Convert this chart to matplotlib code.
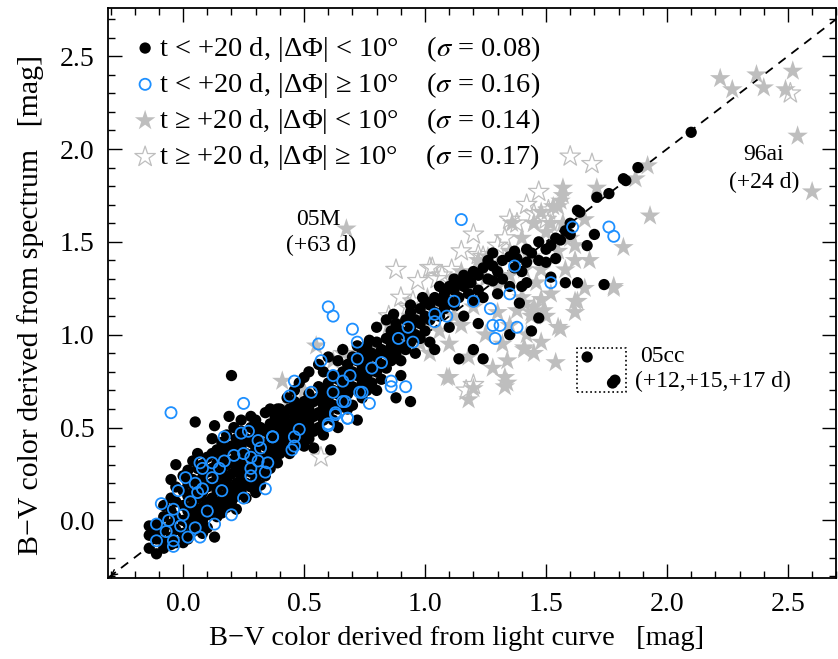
import matplotlib
matplotlib.use("Agg")
import matplotlib.pyplot as plt
import numpy as np

plt.rcParams['font.family'] = 'serif'
plt.rcParams['font.serif'] = ['Liberation Serif', 'DejaVu Serif']
plt.rcParams['mathtext.fontset'] = 'stix'

# (B-V from light curve, B-V from spectrum)
# t < +20 d, |dPhi| < 10 deg  (black dots)
early_good = [
    (-0.14, -0.03), (-0.14, -0.08), (-0.14, -0.15), (-0.11, -0.02), (-0.11, -0.10), (-0.11, -0.18),
    (-0.11, -0.06), (-0.08, 0.02), (-0.08, -0.05), (-0.08, -0.12), (-0.08, 0.08), (-0.08, -0.15),
    (-0.05, 0.05), (-0.05, -0.02), (-0.05, -0.09), (-0.05, 0.12), (-0.05, 0.22), (-0.05, -0.13),
    (-0.03, 0.30), (-0.03, 0.18), (-0.03, 0.10), (-0.03, 0.02), (-0.03, -0.05), (-0.03, -0.12),
    (0.00, 0.24), (0.00, 0.16), (0.00, 0.08), (0.00, 0.00), (0.00, -0.07), (0.00, -0.12),
    (0.02, 0.27), (0.02, 0.20), (0.02, 0.13), (0.02, 0.05), (0.02, -0.02), (0.02, -0.10),
    (0.04, 0.22), (0.04, 0.15), (0.04, 0.08), (0.04, 0.01), (0.04, -0.06), (0.04, 0.32),
    (0.06, 0.36), (0.06, 0.28), (0.06, 0.20), (0.06, 0.12), (0.06, 0.04), (0.06, -0.04),
    (0.08, 0.30), (0.08, 0.23), (0.08, 0.15), (0.08, 0.07), (0.08, 0.00), (0.08, -0.07),
    (0.05, 0.53), (0.10, 0.34), (0.10, 0.26), (0.10, 0.18), (0.10, 0.10), (0.10, 0.03),
    (0.10, -0.04), (0.12, 0.44), (0.12, 0.36), (0.12, 0.28), (0.12, 0.20), (0.12, 0.12),
    (0.12, 0.05), (0.13, -0.09), (0.14, 0.38), (0.14, 0.31), (0.14, 0.24), (0.14, 0.16),
    (0.14, 0.08), (0.14, 0.02), (0.13, 0.51), (0.16, 0.42), (0.16, 0.34), (0.16, 0.26),
    (0.16, 0.19), (0.16, 0.11), (0.16, 0.04), (0.18, 0.46), (0.18, 0.38), (0.18, 0.30),
    (0.18, 0.22), (0.18, 0.14), (0.18, 0.07), (0.19, 0.56), (0.20, 0.40), (0.20, 0.32),
    (0.20, 0.25), (0.20, 0.17), (0.20, 0.10), (0.20, 0.78), (0.21, 0.50), (0.22, 0.44),
    (0.22, 0.36), (0.22, 0.28), (0.22, 0.20), (0.22, 0.13), (0.22, 0.06), (0.24, 0.48),
    (0.24, 0.40), (0.24, 0.32), (0.24, 0.24), (0.24, 0.16), (0.24, 0.54), (0.26, 0.44),
    (0.26, 0.36), (0.26, 0.28), (0.26, 0.20), (0.26, 0.12), (0.28, 0.50), (0.28, 0.42),
    (0.28, 0.34), (0.28, 0.26), (0.28, 0.18), (0.28, 0.56), (0.30, 0.54), (0.30, 0.46),
    (0.30, 0.38), (0.30, 0.30), (0.30, 0.22), (0.30, 0.15), (0.32, 0.50), (0.32, 0.42),
    (0.32, 0.34), (0.32, 0.26), (0.32, 0.19), (0.34, 0.58), (0.34, 0.48), (0.34, 0.40),
    (0.34, 0.32), (0.34, 0.24), (0.36, 0.52), (0.36, 0.44), (0.36, 0.36), (0.36, 0.28),
    (0.36, 0.60), (0.38, 0.56), (0.38, 0.48), (0.38, 0.40), (0.38, 0.32), (0.39, 0.60),
    (0.40, 0.60), (0.40, 0.52), (0.40, 0.44), (0.40, 0.36), (0.39, 0.31), (0.42, 0.56),
    (0.42, 0.48), (0.42, 0.40), (0.43, 0.66), (0.44, 0.60), (0.44, 0.52), (0.44, 0.44),
    (0.44, 0.36), (0.46, 0.64), (0.46, 0.56), (0.46, 0.48), (0.46, 0.40), (0.46, 0.70),
    (0.48, 0.60), (0.48, 0.52), (0.48, 0.44), (0.48, 0.74), (0.50, 0.64), (0.50, 0.56),
    (0.50, 0.48), (0.50, 0.40), (0.50, 0.77), (0.52, 0.68), (0.52, 0.60), (0.52, 0.52),
    (0.52, 0.44), (0.52, 0.80), (0.54, 0.64), (0.54, 0.56), (0.54, 0.48), (0.54, 0.39),
    (0.56, 0.72), (0.56, 0.66), (0.56, 0.58), (0.56, 0.50), (0.56, 0.84), (0.58, 0.70),
    (0.58, 0.62), (0.58, 0.54), (0.58, 0.46), (0.58, 0.80), (0.60, 0.74), (0.60, 0.66),
    (0.60, 0.58), (0.61, 0.38), (0.60, 0.88), (0.62, 0.78), (0.62, 0.70), (0.62, 0.62),
    (0.62, 0.54), (0.64, 0.76), (0.64, 0.68), (0.64, 0.60), (0.64, 0.86), (0.64, 0.50),
    (0.66, 0.80), (0.66, 0.72), (0.66, 0.64), (0.66, 0.92), (0.68, 0.84), (0.68, 0.76),
    (0.68, 0.68), (0.68, 0.60), (0.70, 0.88), (0.70, 0.80), (0.70, 0.72), (0.70, 0.62),
    (0.72, 0.86), (0.72, 0.78), (0.72, 0.70), (0.72, 0.54), (0.72, 0.94), (0.74, 0.90),
    (0.74, 0.82), (0.74, 0.74), (0.74, 0.66), (0.76, 0.94), (0.76, 0.86), (0.76, 0.78),
    (0.76, 0.70), (0.77, 0.97), (0.78, 0.90), (0.78, 0.82), (0.78, 0.74), (0.80, 0.96),
    (0.80, 0.88), (0.80, 0.80), (0.80, 1.04), (0.80, 0.70), (0.82, 0.92), (0.82, 0.84),
    (0.82, 0.76), (0.84, 0.98), (0.84, 0.90), (0.84, 0.82), (0.84, 1.08), (0.86, 1.02),
    (0.86, 0.94), (0.86, 0.86), (0.88, 0.66), (0.88, 1.06), (0.88, 0.98), (0.88, 0.90),
    (0.87, 1.11), (0.90, 1.02), (0.90, 0.94), (0.90, 0.86), (0.90, 0.78), (0.92, 1.08),
    (0.92, 1.00), (0.92, 0.92), (0.94, 0.64), (0.94, 1.12), (0.94, 1.04), (0.94, 0.96),
    (0.94, 1.16), (0.96, 1.08), (0.96, 1.00), (0.96, 0.90), (0.98, 1.14), (0.98, 1.06),
    (0.98, 0.98), (0.99, 1.20), (1.00, 1.10), (1.00, 1.02), (1.00, 1.18), (1.02, 1.16),
    (1.02, 1.08), (1.02, 0.96), (1.04, 1.12), (1.04, 1.20), (1.04, 0.92), (1.06, 1.18),
    (1.06, 1.10), (1.06, 1.26), (1.08, 1.22), (1.08, 1.14), (1.10, 1.18), (1.10, 1.26),
    (1.10, 1.04), (1.12, 1.24), (1.12, 1.16), (1.12, 1.30), (1.14, 1.20), (1.14, 1.28),
    (1.14, 0.87), (1.16, 1.26), (1.16, 1.32), (1.16, 1.10), (1.18, 1.30), (1.18, 1.22),
    (1.19, 1.28), (1.20, 1.34), (1.20, 0.92), (1.20, 1.18), (1.22, 1.32), (1.22, 1.24),
    (1.22, 1.06), (1.24, 1.36), (1.24, 0.87), (1.24, 1.20), (1.26, 1.30), (1.26, 1.40),
    (1.28, 1.37), (1.28, 1.29), (1.28, 1.44), (1.30, 1.34), (1.30, 1.22), (1.32, 1.40),
    (1.32, 1.30), (1.35, 1.00), (1.35, 1.26), (1.35, 1.42), (1.37, 1.45), (1.37, 1.36),
    (1.38, 1.41), (1.39, 1.17), (1.40, 1.26), (1.40, 1.34), (1.42, 1.39), (1.42, 1.28),
    (1.42, 1.46), (1.44, 1.02), (1.44, 1.44), (1.47, 1.50), (1.47, 1.09), (1.47, 1.40),
    (1.50, 1.39), (1.50, 1.46), (1.52, 1.31), (1.52, 1.48), (1.54, 1.41), (1.54, 1.52),
    (1.56, 1.51), (1.58, 1.28), (1.58, 1.56), (1.60, 1.54), (1.60, 1.60), (1.63, 1.67),
    (1.63, 1.28), (1.64, 1.66), (1.67, 1.48), (1.70, 1.54), (1.71, 1.74), (1.74, 1.27),
    (1.76, 1.76), (1.82, 1.84), (1.83, 1.83), (1.88, 1.90), (2.10, 2.09),
    (1.67, 0.88), (1.775, 0.74), (1.785, 0.755),
]

# t < +20 d, |dPhi| >= 10 deg  (blue open circles)
early_off = [
    (-0.05, 0.58), (0.25, 0.63), (0.44, 0.67), (0.46, 0.75), (0.53, 0.69), (0.62, 0.69),
    (0.66, 0.64), (0.74, 0.69), (0.77, 0.63), (0.63, 0.58), (0.60, 0.51), (0.68, 0.55),
    (0.37, 0.45), (0.46, 0.45), (0.46, 0.40), (0.45, 0.38), (0.17, 0.45), (0.24, 0.47),
    (0.27, 0.48), (0.31, 0.43), (0.32, 0.39), (0.31, 0.32), (0.35, 0.31), (0.28, 0.34),
    (0.28, 0.28), (0.28, 0.24), (0.34, 0.26), (0.34, 0.17), (0.25, 0.12), (0.20, 0.03),
    (0.25, 0.36), (0.21, 0.35), (0.17, 0.32), (0.15, 0.28), (0.16, 0.16), (0.12, 0.23),
    (0.08, 0.17), (0.10, 0.05), (0.07, 0.31), (0.12, 0.31), (0.08, 0.28), (0.01, 0.23),
    (0.05, 0.20), (-0.02, 0.16), (-0.09, 0.09), (0.03, 0.10), (0.06, 0.15), (-0.04, 0.06),
    (0.00, 0.03), (-0.06, 0.00), (-0.01, -0.03), (-0.11, -0.02), (-0.07, -0.06), (0.05, -0.04),
    (0.02, -0.09), (0.07, -0.09), (0.13, -0.02), (-0.04, -0.11), (-0.04, -0.14), (-0.11, -0.11),
    (0.60, 1.15), (0.62, 1.10), (0.70, 1.03), (0.56, 0.95), (0.72, 0.96), (0.72, 0.87),
    (0.57, 0.86), (0.62, 0.78), (0.66, 0.75), (0.69, 0.78), (0.67, 0.64), (0.73, 0.69),
    (0.78, 0.82), (0.82, 0.85), (0.86, 0.75), (0.86, 0.72), (0.92, 0.72), (0.89, 0.98),
    (0.93, 1.04), (0.95, 0.96), (1.04, 1.11), (1.04, 1.07), (1.09, 1.10), (1.12, 1.18),
    (1.20, 1.18), (1.27, 1.14), (1.35, 1.22), (1.37, 1.37), (1.28, 1.05), (1.31, 1.05),
    (1.29, 0.98), (1.38, 1.04), (1.52, 1.28), (0.63, 0.57), (0.60, 0.52), (0.68, 0.55),
    (0.48, 0.49), (0.37, 0.45), (1.15, 1.62), (1.61, 1.58), (1.76, 1.58), (1.78, 1.53),
]

# t >= +20 d, |dPhi| < 10 deg  (grey filled stars)
late_good = [
    (2.22, 2.38), (2.27, 2.32), (2.37, 2.40), (2.40, 2.33), (2.49, 2.32), (2.52, 2.42),
    (2.54, 2.07), (2.60, 1.77), (1.92, 1.91), (1.87, 1.84), (1.93, 1.64), (1.82, 1.47),
    (1.78, 1.25), (1.63, 1.18), (1.57, 1.79), (1.71, 1.79), (1.66, 1.62), (1.62, 1.40),
    (1.53, 1.69), (1.56, 1.03), (1.54, 0.85), (1.45, 0.90), (1.34, 0.86), (1.34, 0.74),
    (1.41, 0.92), (1.33, 0.72), (1.33, 0.77), (1.20, 0.71), (1.18, 0.65), (1.09, 0.77),
    (0.675, 1.57), (0.55, 0.94), (0.41, 0.75), (0.42, 0.58), (1.45, 1.60), (1.50, 1.55),
    (1.40, 1.52), (1.55, 1.45), (1.35, 1.45), (1.48, 1.35), (1.30, 1.38), (1.25, 1.30),
    (1.40, 1.20), (1.52, 1.22), (1.45, 1.15), (1.30, 1.12), (1.35, 1.05), (1.25, 1.00),
    (1.15, 1.05), (1.20, 1.15), (1.10, 1.20), (1.05, 1.15), (1.00, 1.08), (0.95, 1.05),
    (1.10, 0.95), (1.02, 0.90), (0.90, 0.98), (0.85, 1.05), (0.80, 0.92), (0.75, 0.85),
    (0.70, 0.80), (1.60, 1.52), (1.58, 1.35), (1.50, 1.10), (1.42, 1.00), (1.18, 0.88),
    (1.28, 0.82), (1.62, 1.12), (1.66, 1.25), (1.57, 1.60), (1.62, 1.48), (1.68, 1.40),
    (1.41, 1.17), (1.46, 1.28), (1.36, 1.60), (1.48, 1.66), (1.56, 1.72), (1.22, 1.40),
    (1.15, 1.34), (1.32, 0.95), (1.48, 0.96), (0.62, 0.86), (0.50, 0.70), (0.66, 0.90),
    (1.62, 1.18), (1.78, 1.26), (1.55, 1.04), (1.41, 0.93), (1.10, 0.77), (1.48, 1.19),
    (1.44, 1.12), (1.38, 1.13), (1.57, 1.75), (1.55, 1.69), (1.45, 1.60), (1.26, 1.42),
    (1.23, 1.35), (1.18, 1.26), (1.01, 1.20), (0.94, 1.10), (1.41, 1.35), (1.44, 1.42),
    (1.49, 1.13), (1.44, 1.10), (1.06, 1.02), (0.98, 0.95), (0.88, 0.88), (1.30, 1.26),
    (1.35, 1.32), (1.12, 1.10), (0.45, 0.62), (0.35, 0.46), (0.72, 0.90), (1.52, 1.60),
]

# t >= +20 d, |dPhi| >= 10 deg  (grey open stars)
late_off = [
    (1.60, 1.96), (1.69, 1.92), (1.47, 1.77), (1.20, 1.54), (1.33, 1.52), (1.11, 1.35),
    (1.02, 1.36), (0.97, 1.29), (1.22, 1.43), (0.95, 1.18), (1.07, 1.32), (1.24, 1.42),
    (0.94, 1.14), (0.79, 0.73), (1.20, 0.73), (0.57, 0.34), (1.55, 1.55), (2.51, 2.30),
    (1.38, 1.60), (1.30, 1.48), (1.15, 1.45), (1.05, 1.30), (0.90, 1.20), (0.85, 1.10),
    (1.40, 1.40), (1.10, 1.25), (1.45, 1.65), (1.42, 1.70), (1.35, 1.62), (0.88, 1.35),
    (1.17, 0.70), (1.50, 1.62), (1.51, 1.67), (0.93, 1.15), (1.03, 1.36),
]

labels = [
    r't < +20 d, |ΔΦ| < 10°    ($\sigma$ = 0.08)',
    r't < +20 d, |ΔΦ| ≥ 10°    ($\sigma$ = 0.16)',
    r't ≥ +20 d, |ΔΦ| < 10°    ($\sigma$ = 0.14)',
    r't ≥ +20 d, |ΔΦ| ≥ 10°    ($\sigma$ = 0.17)',
]

black_x, black_y = zip(*early_good)
blue_x, blue_y = zip(*early_off)
star_x, star_y = zip(*late_good)
ostar_x, ostar_y = zip(*late_off)

fig = plt.figure(figsize=(8.38, 6.59), dpi=100)
ax = fig.add_axes([0.129, 0.123, 0.869, 0.865])

ax.plot([-0.31, 2.8], [-0.31, 2.8], color='black', ls=(0, (5, 4)), lw=1.3, zorder=1)
ax.annotate('', xy=(-0.31, -0.31), xytext=(-0.27, -0.27),
            arrowprops=dict(arrowstyle='->', lw=1.0, color='black'))

h3 = ax.scatter(star_x, star_y, marker='*', s=240, color='#BEBEBE', edgecolors='none', zorder=2)
h4 = ax.scatter(ostar_x, ostar_y, marker='*', s=240, facecolors='none', edgecolors='#BEBEBE', linewidths=0.9, zorder=2)
h1 = ax.scatter(black_x, black_y, marker='o', s=66, color='black', edgecolors='none', zorder=3)
h2 = ax.scatter(blue_x, blue_y, marker='o', s=64, facecolors='none', edgecolors='#1E90FF', linewidths=1.3, zorder=4)

# 05cc box
ax.plot([1.63, 1.83, 1.83, 1.63, 1.63], [0.69, 0.69, 0.93, 0.93, 0.69], color='black', ls=':', lw=1.2, zorder=5)

ax.text(0.56, 1.62, '05M', fontsize=17, ha='center', va='center')
ax.text(0.57, 1.48, '(+63 d)', fontsize=17, ha='center', va='center')
ax.text(2.40, 1.97, '96ai', fontsize=17, ha='center', va='center')
ax.text(2.40, 1.82, '(+24 d)', fontsize=17, ha='center', va='center')
ax.text(1.98, 0.88, '05cc', fontsize=17, ha='center', va='center')
ax.text(2.19, 0.75, '(+12,+15,+17 d)', fontsize=17, ha='center', va='center')

ax.set_xlim(-0.31, 2.70)
ax.set_ylim(-0.31, 2.76)
ax.set_xticks([0.0, 0.5, 1.0, 1.5, 2.0, 2.5])
ax.set_yticks([0.0, 0.5, 1.0, 1.5, 2.0, 2.5])
ax.set_xticks(np.arange(-0.3, 2.71, 0.1), minor=True)
ax.set_yticks(np.arange(-0.3, 2.76, 0.1), minor=True)
ax.tick_params(which='both', direction='in', top=True, right=True, width=1.0, labelsize=20)
ax.tick_params(which='major', length=10, pad=10)
ax.tick_params(which='minor', length=5)
for sp in ax.spines.values():
    sp.set_linewidth(1.3)

ax.set_xlabel('B\u2212V color derived from light curve   [mag]', fontsize=20.5)
ax.set_ylabel('B\u2212V color derived from spectrum   [mag]', fontsize=21.5)
ax.xaxis.set_label_coords(0.478, -0.085)
ax.yaxis.set_label_coords(-0.088, 0.479)

ax.legend([h1, h2, h3, h4], labels, loc='upper left', frameon=False, fontsize=20.5,
          handletextpad=0.1, labelspacing=0.22, borderaxespad=0.5, handlelength=0.8,
          scatterpoints=1, borderpad=0.4)

fig.savefig('out.png', dpi=100)
